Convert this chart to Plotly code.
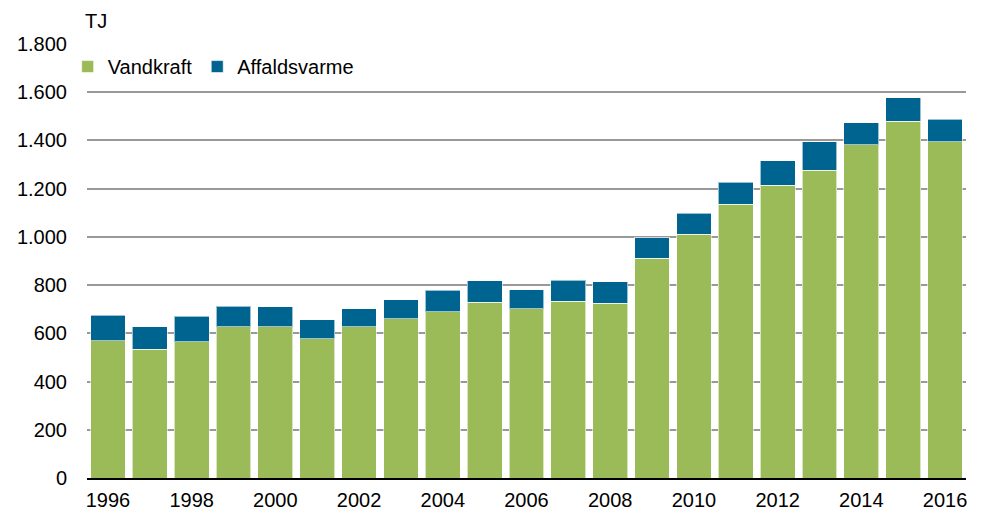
import plotly.graph_objects as go

years = list(range(1996, 2017))
vandkraft = [569, 533, 565, 628, 628, 577, 628, 660, 690, 728, 703, 733, 724,
             912, 1010, 1136, 1214, 1277, 1382, 1479, 1395]
affaldsvarme = [105, 94, 105, 85, 83, 80, 75, 80, 88, 90, 78, 88, 89,
                84, 89, 91, 101, 118, 92, 98, 92]
y_ticks = [0, 200, 400, 600, 800, 1000, 1200, 1400, 1600, 1800]
x_ticks = list(range(1996, 2017, 2))

FONT = "Liberation Sans, Arial, sans-serif"

fig = go.Figure()
fig.add_trace(go.Bar(x=years, y=vandkraft, name="Vandkraft",
                     marker=dict(color="#9bbb59", line=dict(color="rgba(255,255,255,0.6)", width=1))))
fig.add_trace(go.Bar(x=years, y=affaldsvarme, name="Affaldsvarme",
                     marker=dict(color="#006491", line=dict(color="rgba(255,255,255,0.6)", width=1))))

fig.update_layout(
    barmode="stack",
    bargap=0.17,
    width=975, height=505,
    margin=dict(l=78.5, r=16.5, t=36.3, b=34.5, autoexpand=False),
    paper_bgcolor="white", plot_bgcolor="white",
    font=dict(family=FONT, size=20, color="#000000"),
    separators=",.",
    showlegend=True,
    legend=dict(orientation="h", x=-0.022, y=0.948, xanchor="left", yanchor="middle",
                bgcolor="rgba(0,0,0,0)", font=dict(size=20), itemwidth=30,
                traceorder="normal"),
    xaxis=dict(range=[1995.5, 2016.5], tickvals=x_ticks, ticks="", showgrid=False,
               showline=True, linecolor="#000000", linewidth=2, tickfont=dict(size=20),
               zeroline=False, ticklabelstandoff=3),
    yaxis=dict(range=[0, 1800], tickvals=y_ticks, separatethousands=True,
               showgrid=True, gridcolor="#999999", gridwidth=2, ticks="",
               zeroline=False, showline=False, tickfont=dict(size=20),
               ticklabelstandoff=19),
    annotations=[dict(text="TJ", xref="paper", yref="paper", x=-0.005, y=1.0537,
                      xanchor="left", yanchor="middle", showarrow=False,
                      font=dict(size=20))],
)

fig.write_html("out.html")
